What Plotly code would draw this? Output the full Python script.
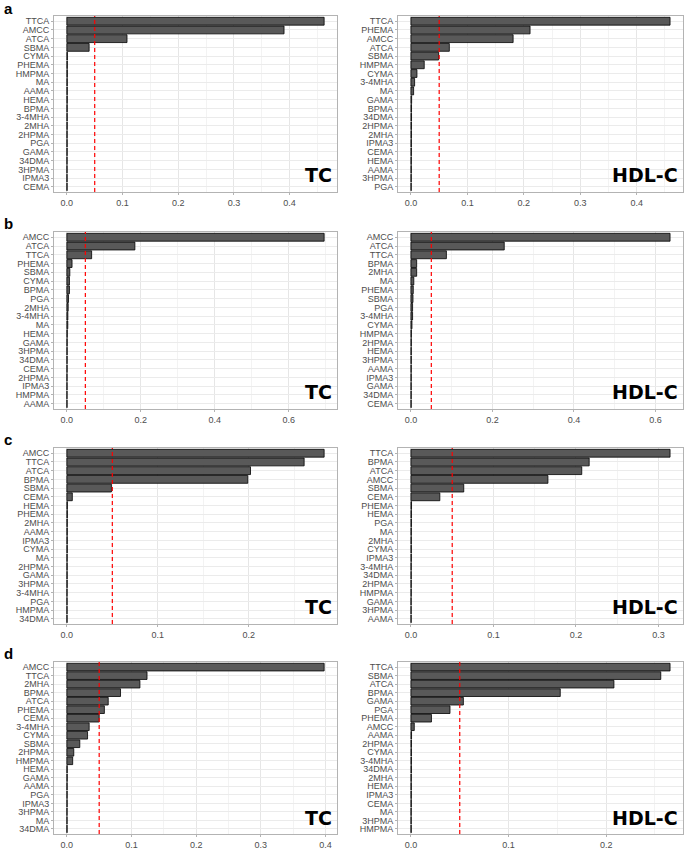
import plotly.graph_objects as go

# panel a
a_tc_names = ["TTCA", "AMCC", "ATCA", "SBMA", "CYMA", "PHEMA", "HMPMA", "MA", "AAMA", "HEMA",
              "BPMA", "3-4MHA", "2MHA", "2HPMA", "PGA", "GAMA", "34DMA", "3HPMA", "IPMA3", "CEMA"]
a_tc_vals = [0.462, 0.390, 0.108, 0.040, 0.0010, 0.0009, 0.0009, 0.0008, 0.0008, 0.0008,
             0.0007, 0.0007, 0.0007, 0.0006, 0.0006, 0.0006, 0.0005, 0.0005, 0.0005, 0.0005]
a_hdl_names = ["TTCA", "PHEMA", "AMCC", "ATCA", "SBMA", "HMPMA", "CYMA", "3-4MHA", "MA", "GAMA",
               "BPMA", "34DMA", "2HPMA", "2MHA", "IPMA3", "CEMA", "HEMA", "AAMA", "3HPMA", "PGA"]
a_hdl_vals = [0.459, 0.211, 0.181, 0.068, 0.049, 0.0235, 0.0106, 0.0065, 0.0047, 0.0012,
              0.0010, 0.0010, 0.0009, 0.0009, 0.0008, 0.0008, 0.0007, 0.0007, 0.0006, 0.0005]

# panel b
b_tc_names = ["AMCC", "ATCA", "TTCA", "PHEMA", "SBMA", "CYMA", "BPMA", "PGA", "2MHA", "3-4MHA",
              "MA", "HEMA", "GAMA", "3HPMA", "34DMA", "CEMA", "2HPMA", "IPMA3", "HMPMA", "AAMA"]
b_tc_vals = [0.696, 0.184, 0.067, 0.014, 0.008, 0.007, 0.007, 0.0045, 0.0036, 0.0027,
             0.0025, 0.0012, 0.0010, 0.0009, 0.0008, 0.0008, 0.0007, 0.0007, 0.0006, 0.0006]
b_hdl_names = ["AMCC", "ATCA", "TTCA", "BPMA", "2MHA", "MA", "PHEMA", "SBMA", "PGA", "3-4MHA",
               "CYMA", "HMPMA", "2HPMA", "HEMA", "3HPMA", "AAMA", "IPMA3", "GAMA", "34DMA", "CEMA"]
b_hdl_vals = [0.636, 0.229, 0.087, 0.014, 0.014, 0.007, 0.0057, 0.005, 0.004, 0.004,
              0.0025, 0.0011, 0.0010, 0.0009, 0.0009, 0.0008, 0.0008, 0.0007, 0.0007, 0.0006]

# panel c
c_tc_names = ["AMCC", "TTCA", "ATCA", "BPMA", "SBMA", "CEMA", "HEMA", "PHEMA", "2MHA", "AAMA",
              "IPMA3", "CYMA", "MA", "2HPMA", "GAMA", "3HPMA", "3-4MHA", "PGA", "HMPMA", "34DMA"]
c_tc_vals = [0.283, 0.261, 0.202, 0.199, 0.049, 0.006, 0.0006, 0.0006, 0.0005, 0.0005,
             0.0005, 0.0005, 0.0004, 0.0004, 0.0004, 0.0004, 0.0003, 0.0003, 0.0003, 0.0003]
c_hdl_names = ["TTCA", "BPMA", "ATCA", "AMCC", "SBMA", "CEMA", "PHEMA", "HEMA", "PGA", "MA",
               "2MHA", "CYMA", "IPMA3", "3-4MHA", "34DMA", "2HPMA", "HMPMA", "GAMA", "3HPMA", "AAMA"]
c_hdl_vals = [0.314, 0.216, 0.207, 0.166, 0.064, 0.035, 0.0007, 0.0006, 0.0006, 0.0005,
              0.0005, 0.0005, 0.0005, 0.0004, 0.0004, 0.0004, 0.0004, 0.0003, 0.0003, 0.0003]

# panel d
d_tc_names = ["AMCC", "TTCA", "2MHA", "BPMA", "ATCA", "PHEMA", "CEMA", "3-4MHA", "CYMA", "SBMA",
              "2HPMA", "HMPMA", "HEMA", "GAMA", "AAMA", "PGA", "IPMA3", "3HPMA", "MA", "34DMA"]
d_tc_vals = [0.398, 0.124, 0.113, 0.083, 0.064, 0.058, 0.050, 0.0345, 0.032, 0.020,
             0.0107, 0.009, 0.0006, 0.0006, 0.0005, 0.0005, 0.0005, 0.0004, 0.0004, 0.0004]
d_hdl_names = ["TTCA", "SBMA", "ATCA", "BPMA", "GAMA", "PGA", "PHEMA", "AMCC", "AAMA", "2HPMA",
               "CYMA", "3-4MHA", "34DMA", "2MHA", "HEMA", "IPMA3", "CEMA", "MA", "3HPMA", "HMPMA"]
d_hdl_vals = [0.2655, 0.256, 0.208, 0.153, 0.0537, 0.040, 0.021, 0.0034, 0.0006, 0.0005,
              0.0005, 0.0005, 0.0005, 0.0004, 0.0004, 0.0004, 0.0004, 0.0003, 0.0003, 0.0003]

threshold = 0.05

panels = [
    (a_tc_names, a_tc_vals, "TC", 0.1),
    (a_hdl_names, a_hdl_vals, "HDL-C", 0.1),
    (b_tc_names, b_tc_vals, "TC", 0.2),
    (b_hdl_names, b_hdl_vals, "HDL-C", 0.2),
    (c_tc_names, c_tc_vals, "TC", 0.1),
    (c_hdl_names, c_hdl_vals, "HDL-C", 0.1),
    (d_tc_names, d_tc_vals, "TC", 0.1),
    (d_hdl_names, d_hdl_vals, "HDL-C", 0.1),
]
row_letters = ["a", "b", "c", "d"]

W, H = 685, 852
# plot area edges in pixels (top, bottom) per row, (left, right) per column
rows_px = [(16, 192), (232, 409), (448, 624), (662, 834)]
cols_px = [(54, 337), (398, 683)]

fig = go.Figure()
layout = dict(
    width=W, height=H, margin=dict(l=0, r=0, t=0, b=0, autoexpand=False),
    paper_bgcolor="white", plot_bgcolor="white", showlegend=False, hovermode=False,
    font=dict(family="Liberation Sans, Arial", size=9, color="#4d4d4d"),
    shapes=[], annotations=[],
)

for i, (names, vals, label, step) in enumerate(panels):
    r, c = i // 2, i % 2
    n = str(i + 1) if i > 0 else ""
    xa, ya = "x" + n, "y" + n
    mx = max(vals)
    fig.add_trace(go.Bar(
        x=vals, y=names, orientation="h", xaxis=xa, yaxis=ya,
        width=0.9, marker=dict(color="#595959", line=dict(color="black", width=0.8)),
    ))
    top, bot = rows_px[r]
    left, right = cols_px[c]
    layout["xaxis" + n] = dict(
        domain=[left / W, right / W], anchor=ya, automargin=False,
        range=[-0.05 * mx, 1.05 * mx], dtick=step, tick0=0, tickformat=".1f",
        showgrid=True, gridcolor="#e6e6e6", gridwidth=1, zeroline=False,
        minor=dict(dtick=step / 2, tick0=0, showgrid=True, gridcolor="#f3f3f3", gridwidth=0.6),
        showline=True, linecolor="#b3b3b3", linewidth=1, mirror=True,
        ticks="outside", ticklen=2, tickcolor="#b3b3b3",
        tickfont=dict(size=9, color="#4d4d4d"),
    )
    layout["yaxis" + n] = dict(
        domain=[1 - bot / H, 1 - top / H], anchor=xa, automargin=False,
        type="category", categoryorder="array", categoryarray=names[::-1],
        tickmode="array", tickvals=names, ticktext=names,
        range=[-0.6, len(names) - 0.4],
        showgrid=True, gridcolor="#ebebeb", gridwidth=1, zeroline=False,
        showline=True, linecolor="#b3b3b3", linewidth=1, mirror=True,
        ticks="outside", ticklen=2, tickcolor="#b3b3b3",
        tickfont=dict(size=9, color="#4d4d4d"),
    )
    layout["shapes"].append(dict(
        type="line", xref=xa, yref=ya + " domain", x0=threshold, x1=threshold, y0=0, y1=1,
        line=dict(color="red", width=1.2, dash="4px,3px"), layer="above",
    ))
    layout["annotations"].append(dict(
        text="<b>" + label + "</b>", xref=xa + " domain", yref=ya + " domain",
        x=0.99, y=0.02, xanchor="right", yanchor="bottom", showarrow=False,
        font=dict(family="DejaVu Sans", size=19, color="black"),
    ))

for r, letter in enumerate(row_letters):
    # keep the first letter clear of the top edge
    yc = max(rows_px[r][0] - 9, 9)
    layout["annotations"].append(dict(
        text="<b>" + letter + "</b>", xref="paper", yref="paper",
        x=2 / W, y=1 - yc / H, xanchor="left", yanchor="middle",
        showarrow=False, font=dict(family="Liberation Sans, Arial", size=15, color="black"),
    ))

fig.update_layout(**layout)
# the default page body has an 8px margin; drop it so the figure fills the window
fig.write_html("out.html", config={"displayModeBar": False},
               post_script="document.body.style.margin = '0px';")
